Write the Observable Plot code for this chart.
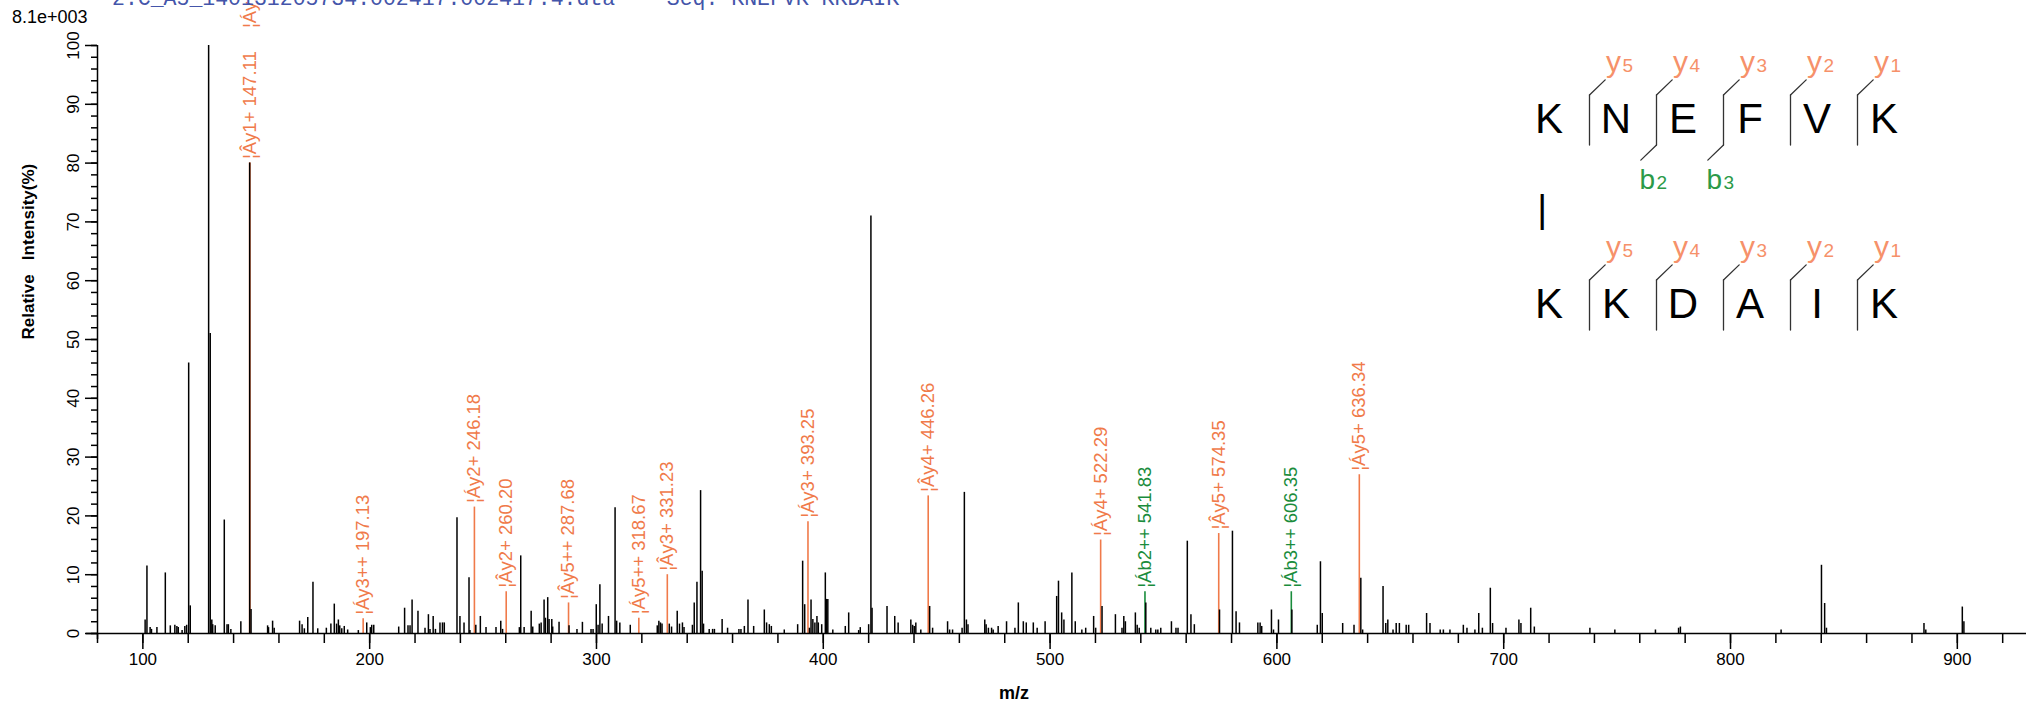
<!DOCTYPE html>
<html><head><meta charset="utf-8">
<script src="https://cdn.jsdelivr.net/npm/d3@7"></script>
<script src="https://cdn.jsdelivr.net/npm/@observablehq/plot@0.6"></script>
<style>
html,body{margin:0;padding:0;background:#fff;overflow:hidden}
#wrap{position:relative;width:2026px;height:708px;overflow:hidden;background:#fff}
#chart,#seq{position:absolute;top:0}
#chart{left:0}
#seq{left:1500px}
#title{position:absolute;left:112px;top:-13px;font:21.5px "Liberation Mono","Courier New",monospace;color:#4455aa;white-space:pre}
#scale{position:absolute;left:12px;top:7px;font:18px Arial,"Liberation Sans",sans-serif;color:#000}
</style></head><body><div id="wrap"><div id="chart"></div><div id="seq"></div><div id="title"></div><div id="scale"></div></div>
<script>
const FONT = "Arial, 'Liberation Sans', sans-serif";
const ORANGE = "#f07a4a", GREEN = "#1a8c3c", LORANGE = "#f6916a", LGREEN = "#2b9a48";

const titleText = "2:C_A5_140131205734.002417.002417.4.dta    Seq: KNEFVK-KKDAIK";
const scaleText = "8.1e+003";

// peaks (m/z, relative intensity %)
const peakMz = [
101.0,101.8,103.2,103.8,106.2,109.9,112.1,114.1,115.0,115.6,117.3,118.5,119.3,120.2,120.9,
129.0,129.7,130.4,130.8,131.9,135.9,137.1,137.7,138.8,143.2,147.1,147.7,
155.0,155.4,157.2,157.9,169.1,170.2,171.2,172.7,175.0,177.1,
180.9,182.9,184.4,185.4,186.2,186.8,187.7,188.8,190.3,195.0,198.7,200.3,200.9,201.8,212.8,
215.4,216.9,217.8,218.7,221.3,224.4,225.9,226.6,228.0,229.0,231.0,232.1,232.9,
238.5,239.8,241.6,243.8,244.2,246.8,248.8,251.3,255.7,257.8,258.6,
266.0,266.6,268.1,271.2,271.9,274.8,275.6,276.9,277.5,278.5,279.1,280.3,280.7,283.5,
287.9,291.4,293.8,297.6,298.5,299.9,300.7,301.5,302.5,305.3,308.2,308.9,310.3,314.9,
326.8,327.5,328.2,328.9,332.1,333.1,335.6,336.6,337.9,338.6,
342.3,343.1,344.3,345.9,346.6,347.2,349.7,351.2,352.0,355.4,357.8,362.8,363.7,365.2,366.8,369.3,
374.0,375.0,376.2,377.1,382.8,388.7,390.9,391.8,393.9,394.6,395.4,396.3,397.2,397.8,399.3,
400.9,401.4,402.0,404.2,409.7,411.2,415.6,416.3,420.0,421.0,421.5,428.1,431.5,433.0,
438.6,439.4,440.1,440.8,443.0,446.9,448.2,454.8,455.7,457.0,461.2,462.2,463.1,463.8,
471.2,471.8,472.8,474.2,474.9,477.1,480.8,484.5,486.0,488.2,489.5,492.6,494.3,497.8,
502.9,503.7,505.1,506.1,509.6,511.1,514.0,515.7,519.2,520.1,522.9,528.8,531.7,532.5,533.2,
537.6,538.4,539.3,542.2,544.4,546.6,547.5,548.8,553.5,555.5,556.4,560.5,562.1,563.6,
574.7,580.4,582.0,583.5,591.6,592.6,593.3,597.6,598.5,600.7,606.6,
617.8,619.2,620.0,629.0,634.0,637.0,637.8,646.8,648.0,648.9,651.2,652.6,654.0,657.0,658.1,
666.0,667.5,672.0,673.4,676.3,682.2,683.8,687.3,689.0,690.6,694.1,695.1,701.0,706.7,707.6,711.9,713.5,
738.0,749.0,766.9,777.1,777.9,822.3,840.1,841.5,842.3,885.3,886.1,902.2,902.9
];
const peakInt = [
2.3,11.5,1.0,0.7,1.0,10.3,1.3,1.4,1.2,1.0,0.5,1.2,1.4,46,4.7,
100,51,2.3,1.5,1.3,19.3,1.5,1.5,0.7,2.0,80,4.1,
1.3,1.0,2.1,0.9,2.1,1.5,0.8,2.7,8.7,0.8,
0.9,1.6,5.0,1.6,2.3,1.3,0.8,1.2,0.6,0.5,1.8,1.0,1.4,1.4,1.1,
4.3,1.3,1.3,5.7,3.8,0.9,3.2,0.7,2.9,0.7,1.8,1.8,1.8,
19.7,2.9,1.8,9.5,0.5,1.4,2.9,1.0,1.0,2.1,0.7,
1.0,13.2,1.0,3.8,1.1,1.6,1.8,5.7,2.6,6.1,2.4,2.4,1.1,1.9,
1.3,0.7,1.9,0.7,0.7,4.9,1.4,8.3,1.6,2.9,21.4,2.1,1.8,1.4,
1.3,2.1,1.8,1.6,1.6,1.1,3.8,1.6,1.8,1.0,
1.4,5.2,8.7,24.3,10.6,1.6,0.7,0.7,0.7,2.4,0.9,0.7,0.7,1.2,5.7,1.2,
4.0,1.8,1.5,1.2,0.6,1.5,12.3,4.9,0.9,5.7,2.4,1.8,2.9,1.8,1.5,
10.3,5.8,5.8,0.6,1.2,3.5,0.5,1.0,1.5,71,4.3,4.6,2.9,1.8,
2.3,1.4,1.2,1.8,0.6,4.6,0.9,2.0,0.6,0.6,0.9,24.0,2.3,1.5,
2.3,1.5,0.9,0.9,0.6,1.2,2.0,0.9,5.2,2.0,1.8,1.8,0.9,2.0,
6.3,8.9,3.5,2.3,10.3,2.0,0.6,0.9,2.9,0.9,4.6,3.2,0.9,2.9,2.0,
3.5,1.4,0.9,5.2,0.9,0.6,0.6,0.9,2.0,0.9,0.9,15.7,3.2,1.5,
4.0,17.4,3.7,1.8,1.8,1.8,1.2,4.0,0.6,2.3,4.0,
1.4,12.2,3.4,1.7,1.4,9.4,0.6,8.0,1.7,2.3,0.6,1.7,1.7,1.4,1.4,
3.4,1.7,0.6,0.6,0.6,1.4,0.9,0.6,3.4,0.9,7.7,1.7,0.9,2.3,1.7,4.3,1.1,
0.9,0.6,0.6,0.9,1.1,0.6,11.6,5.1,0.9,1.7,0.6,4.5,2.0
];

// annotated (matched) fragment peaks
const annMz = [147.11,147.11,197.13,246.18,260.20,287.68,318.67,331.23,393.25,446.26,522.29,541.83,574.35,606.35,636.34];
const annInt = [80,80,2.5,21.5,7.1,5.2,2.6,10,19,23.4,15.9,7.1,17,7.1,27];
const annLabel = ["¦Ây1+ 147.11","¦Áy1+ 147.11","¦Áy3++ 197.13","¦Áy2+ 246.18","¦Ây2+ 260.20","¦Ây5++ 287.68","¦Áy5++ 318.67","¦Ây3+ 331.23","¦Áy3+ 393.25","¦Ây4+ 446.26","¦Áy4+ 522.29","¦Áb2++ 541.83","¦Ây5+ 574.35","¦Áb3++ 606.35","¦Áy5+ 636.34"];
const annType = ["y","y","y","y","y","y","y","y","y","y","y","b","y","b","y"];

// axes ticks
const xMajor = [100,200,300,400,500,600,700,800,900];
const xMinor = [80,100,120,140,160,180,200,220,240,260,280,300,320,340,360,380,400,420,440,460,480,500,520,540,560,580,600,620,640,660,680,700,720,740,760,780,800,820,840,860,880,900,920];
const yMajor = [0,10,20,30,40,50,60,70,80,90,100];
const yMinor = [0,2,4,6,8,10,12,14,16,18,20,22,24,26,28,30,32,34,36,38,40,42,44,46,48,50,52,54,56,58,60,62,64,66,68,70,72,74,76,78,80,82,84,86,88,90,92,94,96,98,100];

// sequence diagram
const alphaSeq = ["K","N","E","F","V","K"];
const betaSeq  = ["K","K","D","A","I","K"];
const yIonNumbers = [5,4,3,2,1];
const alphaBIons = [2,3];
const linkSite = 0;

// ---------- main spectrum ----------
const peaks = peakMz.map((mz, i) => ({mz, int: peakInt[i]}));
const ann = annMz.map((mz, i) => ({mz, int: annInt[i], label: annLabel[i], type: annType[i]}));
const seen = new Map();
ann.forEach(d => { const k = d.mz.toFixed(2); d.stack = seen.get(k) || 0; seen.set(k, d.stack + 1); });

const labelMarks = [];
for (const s of [0, 1]) {
  for (const t of ["y", "b"]) {
    labelMarks.push(Plot.text(ann.filter(d => d.stack === s && d.type === t), {
      x: "mz", y: "int", text: "label", rotate: -90, textAnchor: "start", lineAnchor: "middle",
      dy: -4 - s * 131, fill: t === "b" ? GREEN : ORANGE, fontSize: 18.5
    }));
  }
}

const chart = Plot.plot({
  width: 2026, height: 708,
  marginLeft: 97, marginRight: 0, marginTop: 45, marginBottom: 75,
  x: {domain: [80, 930.5]},
  y: {domain: [0, 100]},
  style: {fontFamily: FONT, background: "transparent", overflow: "visible"},
  marks: [
    Plot.ruleX(ann.filter(d => d.type === "y"), {x: "mz", y1: 0, y2: "int", stroke: ORANGE, strokeWidth: 1.6}),
    Plot.ruleX(ann.filter(d => d.type === "b"), {x: "mz", y1: 0, y2: "int", stroke: GREEN, strokeWidth: 1.6}),
    Plot.ruleX(peaks, {x: "mz", y1: 0, y2: "int", stroke: "black", strokeWidth: 1.5}),
    ...labelMarks,
    Plot.ruleY([0], {stroke: "black", strokeWidth: 1.5, insetLeft: -11}),
    Plot.ruleX([80], {stroke: "black", strokeWidth: 1.5, insetBottom: -6}),
    Plot.axisX({ticks: xMajor, tickSize: 16, tickPadding: 3, fontSize: 17, label: null, tickFormat: d => String(d), strokeWidth: 1.5}),
    Plot.axisX({ticks: xMinor, tickSize: 10, tickFormat: () => "", label: null, strokeWidth: 1.5}),
    Plot.axisY({ticks: yMajor, tickSize: 12, tickFormat: () => "", label: null, strokeWidth: 1.5}),
    Plot.axisY({ticks: yMinor, tickSize: 6, tickFormat: () => "", label: null, strokeWidth: 1.5}),
    Plot.text(yMajor, {frameAnchor: "left", y: d => d, text: d => String(d), rotate: -90, textAnchor: "middle", lineAnchor: "bottom", dx: -19, fontSize: 17}),
    Plot.text(["Relative   Intensity(%)"], {frameAnchor: "left", dx: -69, rotate: -90, fontWeight: "bold", fontSize: 17}),
    Plot.text(["m/z"], {frameAnchor: "bottom", dx: -48, dy: 65, fontWeight: "bold", fontSize: 18})
  ]
});
document.getElementById("chart").appendChild(chart);

// ---------- sequence diagram ----------
const rows = [alphaSeq, betaSeq];
const letters = rows.flatMap((seq, row) => seq.map((aa, i) => ({i, row, aa})));
const gaps = rows.flatMap((seq, row) => yIonNumbers.map(n => ({g: seq.length - n, row, n})));
const bGaps = alphaBIons.map(n => ({g: n, row: 0, n}));
const segment = {draw(context, l) { context.moveTo(0, 0); context.lineTo(0, -l); }};
const BR = "#333";

const seqPlot = Plot.plot({
  width: 526, height: 360, margin: 0,
  x: {domain: [-0.5, 5.5], range: [15, 417], axis: null},
  y: {domain: [0, 1], range: [117, 302], axis: null},
  style: {fontFamily: FONT, background: "transparent", overflow: "visible"},
  marks: [
    Plot.text(letters, {x: "i", y: "row", text: "aa", fontSize: 42, dy: 2, fill: "black"}),
    Plot.vector(gaps, {x: d => d.g - 0.5, y: "row", dx: 7, dy: -22.5, rotate: 180, length: 50, anchor: "start", shape: segment, stroke: BR, strokeWidth: 1.3}),
    Plot.vector(gaps, {x: d => d.g - 0.5, y: "row", dx: 7, dy: -22.5, rotate: 46, length: 21.8, anchor: "start", shape: segment, stroke: BR, strokeWidth: 1.3}),
    Plot.vector(bGaps, {x: d => d.g - 0.5, y: "row", dx: 7, dy: 27.5, rotate: 226, length: 21.8, anchor: "start", shape: segment, stroke: BR, strokeWidth: 1.3}),
    Plot.text(gaps, {x: d => d.g - 0.5, y: "row", text: () => "y", dx: 23.5, dy: -46, textAnchor: "start", lineAnchor: "bottom", fontSize: 30, fill: LORANGE}),
    Plot.text(gaps, {x: d => d.g - 0.5, y: "row", text: d => String(d.n), dx: 40, dy: -46, textAnchor: "start", lineAnchor: "bottom", fontSize: 19, fill: LORANGE}),
    Plot.text(bGaps, {x: d => d.g - 0.5, y: "row", text: () => "b", dx: -10, dy: 71, textAnchor: "start", lineAnchor: "bottom", fontSize: 28, fill: LGREEN}),
    Plot.text(bGaps, {x: d => d.g - 0.5, y: "row", text: d => String(d.n), dx: 7, dy: 71, textAnchor: "start", lineAnchor: "bottom", fontSize: 19, fill: LGREEN}),
    Plot.text([linkSite], {x: d => d, y: () => 0.5, text: () => "|", dx: -6.7, fontSize: 38, fill: "black"})
  ]
});
document.getElementById("seq").appendChild(seqPlot);

document.getElementById("title").textContent = titleText;
document.getElementById("scale").textContent = scaleText;
</script></body></html>
